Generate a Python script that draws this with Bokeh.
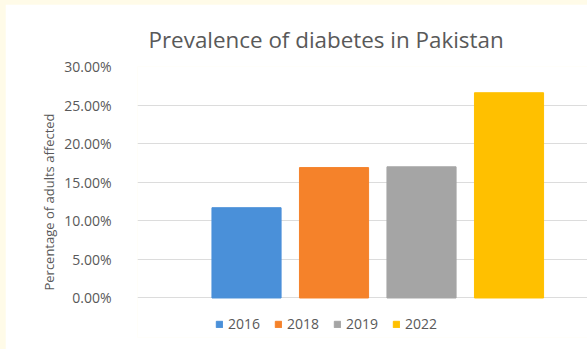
from bokeh.plotting import figure
from bokeh.models import (Range1d, NumeralTickFormatter, FixedTicker, Legend,
                          LegendItem, ColumnDataSource)
from bokeh.layouts import column
from bokeh.embed import file_html
from bokeh.resources import INLINE

# ---- data ----
years = ["2016", "2018", "2019", "2022"]
prevalence = [0.117, 0.169, 0.170, 0.266]
colors = ["#4A90D9", "#F5822A", "#A5A5A5", "#FFC000"]
y_ticks = [0.0, 0.05, 0.10, 0.15, 0.20, 0.25, 0.30]
title_text = "Prevalence of diabetes in Pakistan"
y_label = "Percentage of adults affected"

TEXT = "#595959"
FONT = "Open Sans"

src = ColumnDataSource(dict(x=list(range(len(years))), top=prevalence,
                            color=colors, year=years))

# frame extended below zero to hold the legend
p = figure(width=582, height=345, output_backend="svg", toolbar_location=None,
           x_range=Range1d(-1.246, 3.897), y_range=Range1d(-0.0512, 0.30),
           min_border_left=132, min_border_right=0, min_border_top=62,
           min_border_bottom=12)
p.margin = (4, 0, 0, 5)
p.outline_line_color = None
p.background_fill_color = "white"
p.border_fill_color = "white"

r = p.vbar(x="x", top="top", bottom=0, width=0.79, color="color", source=src)

# title
p.title.text = title_text
p.title.text_font = FONT
p.title.text_font_size = "22.4px"
p.title.text_font_style = "normal"
p.title.text_color = TEXT
p.title.align = "left"
p.title.offset = 11
p.title.standoff = 24

# axes
p.xaxis.visible = False
p.xgrid.visible = False
ya = p.yaxis[0]
ya.ticker = FixedTicker(ticks=y_ticks)
ya.formatter = NumeralTickFormatter(format="0.00%")
ya.axis_line_color = None
ya.major_tick_line_color = None
ya.minor_tick_line_color = None
ya.major_label_text_font = FONT
ya.major_label_text_font_size = "14px"
ya.major_label_text_color = TEXT
ya.major_label_standoff = 20
ya.axis_label = y_label
ya.axis_label_text_font = FONT
ya.axis_label_text_font_size = "13px"
ya.axis_label_text_font_style = "normal"
ya.axis_label_text_color = TEXT
ya.axis_label_standoff = 3
p.ygrid.grid_line_color = "#DCDCDC"
p.ygrid.grid_line_width = 1

legend = Legend(items=[LegendItem(label=years[i], renderers=[r], index=i)
                       for i in range(len(years))],
                orientation="horizontal", location=(78, 4),
                glyph_width=8, glyph_height=8, label_standoff=5, spacing=14,
                padding=0, margin=0, border_line_color=None,
                background_fill_alpha=0, label_text_font=FONT,
                label_text_font_size="14px", label_text_color=TEXT)
p.add_layout(legend)

layout = column(p, width=587, height=349,
                styles={"background-color": "#FFFBE8"})

open("out.html", "w").write(file_html(layout, INLINE))
